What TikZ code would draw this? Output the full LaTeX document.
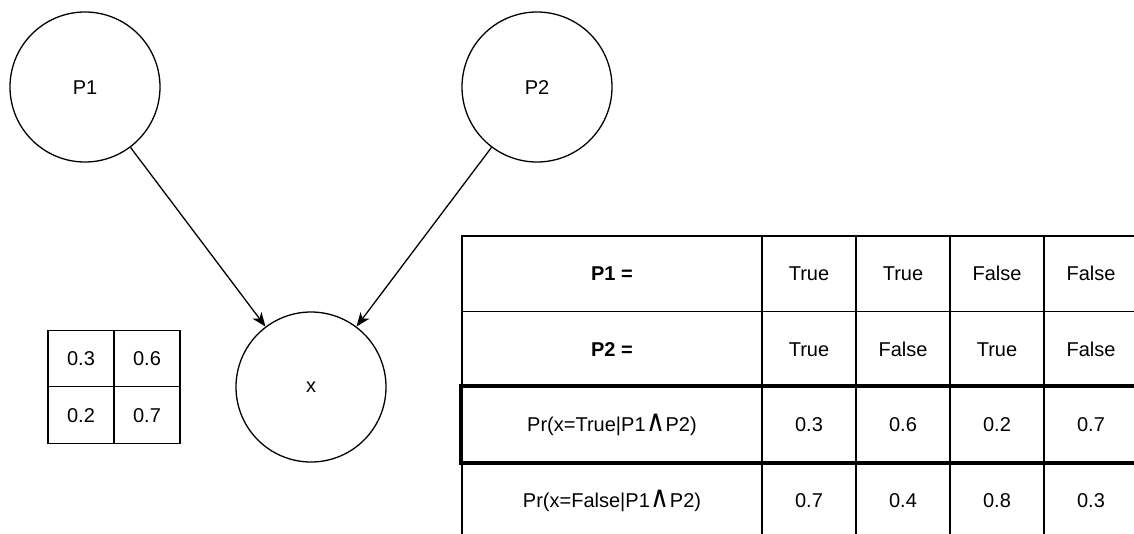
\documentclass[tikz,border=0pt]{standalone}
\usepackage{fontspec}
\setmainfont{Liberation Sans}
\newfontfamily\symfont{DejaVu Sans}
\usetikzlibrary{arrows.meta}
\newcommand{\conj}{\hspace{0.5pt}\scalebox{1.3}[1.5]{\symfont ∧}\hspace{0.5pt}}
\tikzset{
  txt/.style={font=\fontsize{20}{24}\selectfont, text height=14.3pt, text depth=0pt},
  var/.style={circle, draw, line width=1.3pt, minimum size=150pt, inner sep=0pt, txt},
  link/.style={line width=1.3pt, -{Stealth[length=14pt, width=11pt, inset=4pt]}},
  cell/.style={rectangle, draw, line width=1.4pt, inner sep=0pt, txt},
  wide/.style={cell, minimum width=300pt, minimum height=75.5pt},
  narrow/.style={cell, minimum width=94pt, minimum height=75.5pt},
  small/.style={cell, minimum width=66pt, minimum height=56.5pt},
}
\begin{document}
\begin{tikzpicture}[x=1pt, y=-1pt]
  \useasboundingbox (0,0) rectangle (1134,533);
  \clip (0,0) rectangle (1134,533);
  \fill[white] (0,0) rectangle (1134,533);

  % network nodes
  \node[var] (p1) at (85,87) {P1};
  \node[var] (p2) at (537,87) {P2};
  \node[var, text height=10pt] (x) at (311,387) {x};
  \draw[link] (p1) -- (x);
  \draw[link] (p2) -- (x);

  % compact probability grid
  \node[small] (s11) at (81,358.5) {0.3};
  \node[small] (s12) at (147,358.5) {0.6};
  \node[small] (s21) at (81,415) {0.2};
  \node[small] (s22) at (147,415) {0.7};

  % conditional probability table
  \node[wide] (h1) at (612,273.75) {\textbf{P1 =}};
  \node[wide] (h2) at (612,349.25) {\textbf{P2 =}};
  \node[wide] (r1) at (612,424.75) {Pr(x=True|P1\conj P2)};
  \node[wide] (r2) at (612,500.25) {Pr(x=False|P1\conj P2)};

  \node[narrow] (a1) at (809,273.75) {True};
  \node[narrow] (a2) at (903,273.75) {True};
  \node[narrow] (a3) at (997,273.75) {False};
  \node[narrow] (a4) at (1091,273.75) {False};

  \node[narrow] (b1) at (809,349.25) {True};
  \node[narrow] (b2) at (903,349.25) {False};
  \node[narrow] (b3) at (997,349.25) {True};
  \node[narrow] (b4) at (1091,349.25) {False};

  \node[narrow] (c1) at (809,424.75) {0.3};
  \node[narrow] (c2) at (903,424.75) {0.6};
  \node[narrow] (c3) at (997,424.75) {0.2};
  \node[narrow] (c4) at (1091,424.75) {0.7};

  \node[narrow] (d1) at (809,500.25) {0.7};
  \node[narrow] (d2) at (903,500.25) {0.4};
  \node[narrow] (d3) at (997,500.25) {0.8};
  \node[narrow] (d4) at (1091,500.25) {0.3};

  % highlighted row
  \draw[line width=4pt] (r1.north west) rectangle (c4.south east);
\end{tikzpicture}
\end{document}
